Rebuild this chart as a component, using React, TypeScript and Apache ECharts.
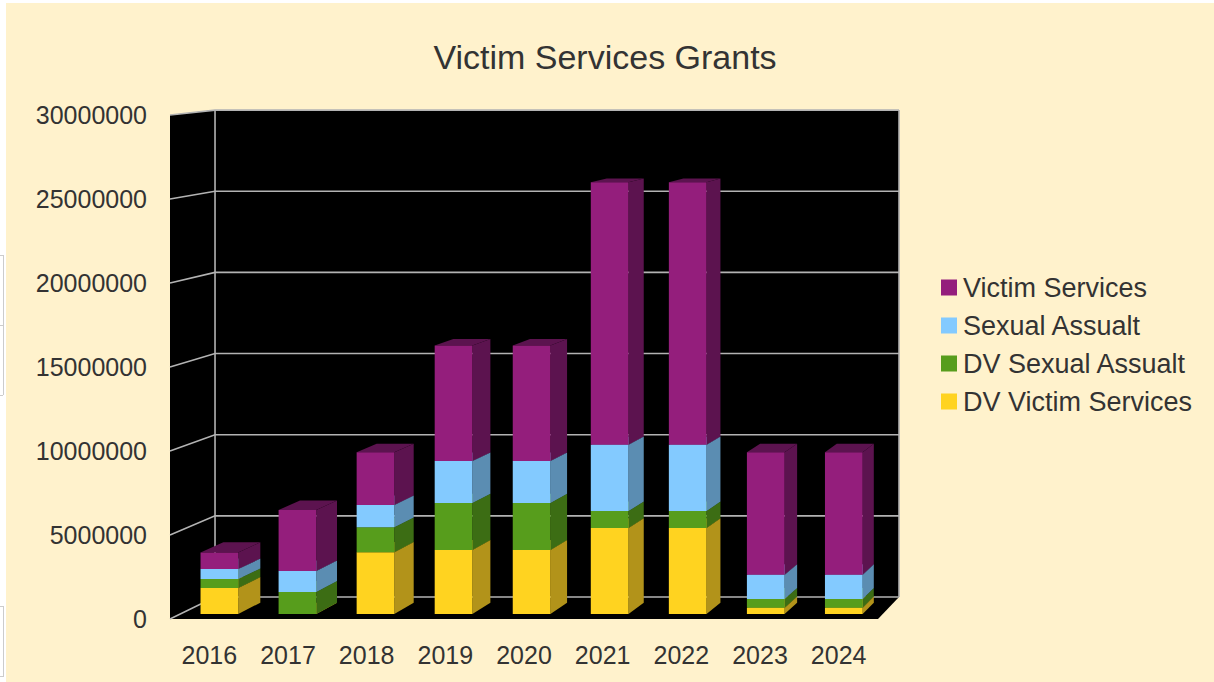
import React, { useEffect, useRef } from "react";
import * as echarts from "echarts";

const years = ["2016", "2017", "2018", "2019", "2020", "2021", "2022", "2023", "2024"];
const dvVictimServices = [1560000, 0, 3700000, 3830000, 3830000, 5150000, 5150000, 370000, 370000];
const dvSexualAssault = [530000, 1320000, 1500000, 2820000, 2820000, 1020000, 1020000, 530000, 530000];
const sexualAssault = [600000, 1260000, 1340000, 2520000, 2520000, 3980000, 3980000, 1450000, 1450000];
const victimServices = [1000000, 3660000, 3160000, 6930000, 6930000, 15750000, 15750000, 7350000, 7350000];
const gridValues = [0, 5000000, 10000000, 15000000, 20000000, 25000000, 30000000];

const FONT = '"Liberation Sans", Arial, sans-serif';
const TEXT = "#333333";

// Vanishing point of the depth direction and the depth stops of walls and bars.
const VP_X = 1498;
const VP_Y = -30;
const WALL_DEPTH = 0.0339;
const BAR_FRONT = 0.0078;
const BAR_BACK = 0.0252;
const BAR_RATIO = 0.483;

const project = (x: number, y: number, k: number) => [x + (VP_X - x) * k, y + (VP_Y - y) * k];

const stackSeries = [
  { name: "DV Victim Services", values: dvVictimServices, color: "#FFD320", side: "#B2931A", top: "#C9A31A" },
  { name: "DV Sexual Assualt", values: dvSexualAssault, color: "#579D1C", side: "#3C6D14", top: "#437A16" },
  { name: "Sexual Assualt", values: sexualAssault, color: "#83CAFF", side: "#5B8DB2", top: "#6AA2CC" },
  { name: "Victim Services", values: victimServices, color: "#941E7C", side: "#5C134F", top: "#5C134F" },
];

// Prism for one stacked segment: front, right side and top faces.
const renderBar = (color: string, side: string, top: string) => (_params: any, api: any) => {
  const cat = api.value(0);
  const [cx, y0] = api.coord([cat, api.value(1)]);
  const [, y1] = api.coord([cat, api.value(2)]);
  const half = (api.size([1, 0])[0] * BAR_RATIO) / 2;
  const l = cx - half;
  const r = cx + half;
  const fbl = project(l, y0, BAR_FRONT);
  const fbr = project(r, y0, BAR_FRONT);
  const ftl = project(l, y1, BAR_FRONT);
  const ftr = project(r, y1, BAR_FRONT);
  const bbr = project(r, y0, BAR_BACK);
  const btr = project(r, y1, BAR_BACK);
  const btl = project(l, y1, BAR_BACK);
  return {
    type: "group",
    children: [
      { type: "polygon", shape: { points: [ftl, ftr, btr, btl] }, style: { fill: top } },
      { type: "polygon", shape: { points: [fbr, bbr, btr, ftr] }, style: { fill: side } },
      { type: "polygon", shape: { points: [fbl, fbr, ftr, ftl] }, style: { fill: color } },
    ],
  };
};

// Black floor, side wall and back wall of the plot box.
const renderWalls = (params: any) => {
  const { x, y, width, height } = params.coordSys;
  const left = x;
  const right = x + width;
  const top = y;
  const bottom = y + height;
  const blackFace = (points: number[][]) => ({ type: "polygon", shape: { points }, style: { fill: "#000000" } });
  return {
    type: "group",
    children: [
      blackFace([[left, top], project(left, top, WALL_DEPTH), project(left, bottom, WALL_DEPTH), [left, bottom]]),
      blackFace([[left, bottom], [right, bottom], project(right, bottom, WALL_DEPTH), project(left, bottom, WALL_DEPTH)]),
      blackFace([
        project(left, top, WALL_DEPTH),
        project(right, top, WALL_DEPTH),
        project(right, bottom, WALL_DEPTH),
        project(left, bottom, WALL_DEPTH),
      ]),
      {
        type: "polyline",
        shape: { points: [project(left, top, WALL_DEPTH), project(left, bottom, WALL_DEPTH)] },
        style: { stroke: "#B3B3B3", lineWidth: 1.6, fill: "none" },
      },
      {
        type: "polyline",
        shape: { points: [project(right, top, WALL_DEPTH), project(right, bottom, WALL_DEPTH)] },
        style: { stroke: "#B3B3B3", lineWidth: 1.6, fill: "none" },
      },
    ],
  };
};

// One grid line: across the side wall, then along the back wall.
const renderGridLine = (params: any, api: any) => {
  const { x, width } = params.coordSys;
  const [, y] = api.coord([0, api.value(0)]);
  return {
    type: "polyline",
    shape: { points: [[x, y], project(x, y, WALL_DEPTH), project(x + width, y, WALL_DEPTH)] },
    style: { stroke: "#B3B3B3", lineWidth: 1.6, fill: "none" },
  };
};

const pageEdgeLine = (x1: number, y1: number, x2: number, y2: number) => ({
  type: "line",
  shape: { x1, y1, x2, y2 },
  style: { stroke: "#CCCCCC", lineWidth: 1 },
  z: -1,
});

export default function App() {
  const ref = useRef<HTMLDivElement>(null);

  useEffect(() => {
    const chart = echarts.init(ref.current!, null, { renderer: "svg" });
    const running = years.map(() => 0);
    const barSeries = stackSeries.map((s) => ({
      type: "custom",
      name: s.name,
      coordinateSystem: "cartesian2d",
      renderItem: renderBar(s.color, s.side, s.top),
      itemStyle: { color: s.color },
      encode: { x: 0, y: [1, 2] },
      z: 5,
      data: s.values.map((v, i) => {
        const base = running[i];
        running[i] = base + v;
        return [i, base, running[i]];
      }),
    }));

    chart.setOption({
      animation: false,
      backgroundColor: "#FFFFFF",
      title: {
        text: "Victim Services Grants",
        left: 600,
        top: 35,
        textAlign: "center",
        textStyle: { fontFamily: FONT, fontSize: 34, fontWeight: "normal", color: TEXT },
      },
      graphic: [
        {
          type: "rect",
          shape: { x: 6, y: 3, width: 1208, height: 679 },
          style: { fill: "#FFF2CC" },
          z: -2,
        },
        pageEdgeLine(3.5, 255, 3.5, 395),
        pageEdgeLine(0, 255.5, 3, 255.5),
        pageEdgeLine(0, 325.5, 3, 325.5),
        pageEdgeLine(0, 395.5, 3, 395.5),
        pageEdgeLine(3.5, 606, 3.5, 677),
        pageEdgeLine(0, 606.5, 3, 606.5),
        pageEdgeLine(0, 676.5, 3, 676.5),
      ],
      legend: {
        orient: "vertical",
        left: 936,
        top: 269,
        icon: "rect",
        itemWidth: 16,
        itemHeight: 16,
        itemGap: 11,
        data: ["Victim Services", "Sexual Assualt", "DV Sexual Assualt", "DV Victim Services"],
        textStyle: { fontFamily: FONT, fontSize: 27, color: TEXT, padding: [0, 0, 0, 1] },
        selectedMode: false,
      },
      grid: { left: 170, top: 115, width: 708, height: 504, containLabel: false },
      xAxis: {
        type: "category",
        data: years,
        axisLine: { show: false },
        axisTick: { show: false },
        axisLabel: { margin: 23, fontFamily: FONT, fontSize: 25, color: TEXT },
      },
      yAxis: {
        type: "value",
        min: 0,
        max: 30000000,
        interval: 5000000,
        axisLine: { show: false },
        axisTick: { show: false },
        splitLine: { show: false },
        axisLabel: { margin: 23, fontFamily: FONT, fontSize: 25, color: TEXT, formatter: (v: number) => String(v) },
      },
      series: [
        {
          type: "custom",
          coordinateSystem: "cartesian2d",
          renderItem: renderWalls,
          encode: { y: 0 },
          z: 1,
          silent: true,
          data: [[0]],
        },
        {
          type: "custom",
          coordinateSystem: "cartesian2d",
          renderItem: renderGridLine,
          encode: { y: 0 },
          z: 2,
          silent: true,
          data: gridValues.map((v) => [v]),
        },
        ...barSeries,
      ],
    });

    return () => chart.dispose();
  }, []);

  return <div ref={ref} style={{ position: "fixed", left: 0, top: 0, width: 1214, height: 682 }} />;
}
